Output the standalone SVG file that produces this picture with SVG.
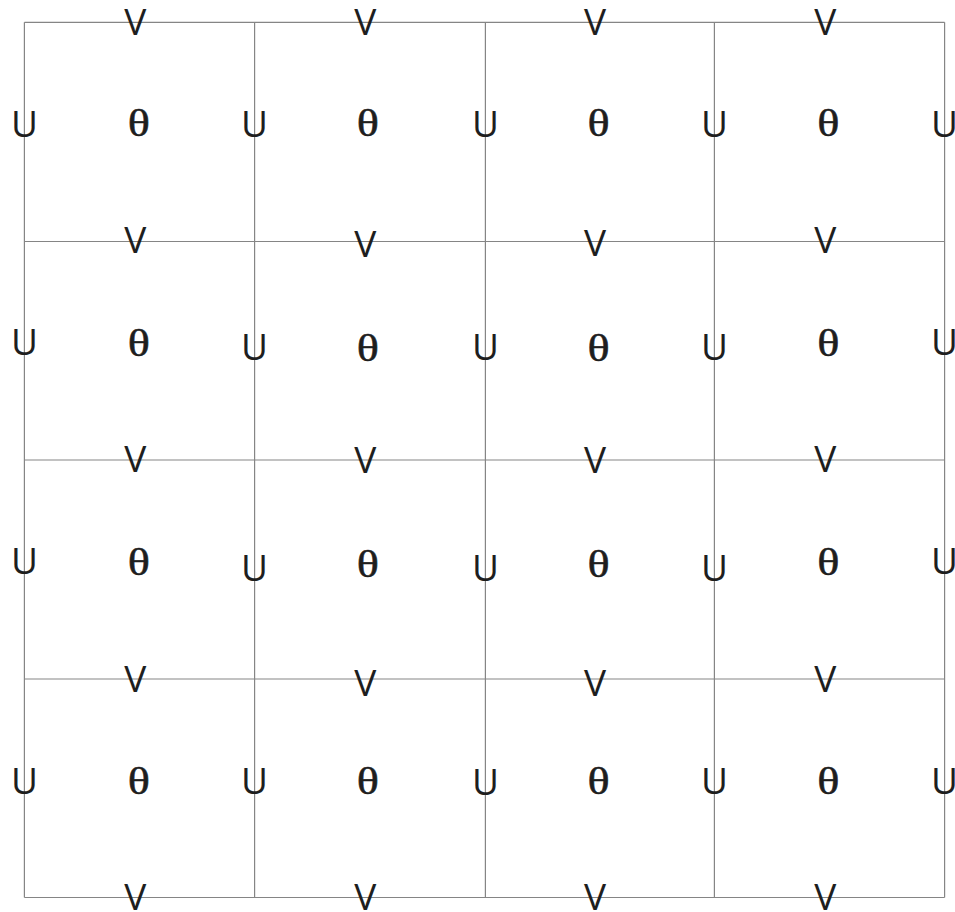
<svg xmlns="http://www.w3.org/2000/svg" width="955" height="912" viewBox="0 0 955 912">
<style>
.g{stroke:#858585;stroke-width:1.2;fill:none}
.s{font-family:"Open Sans","Liberation Sans",Arial,sans-serif;font-weight:400;font-size:37px;fill:#1e1e1e;text-anchor:middle}
.t{font-family:"Liberation Serif","Times New Roman",serif;font-size:37px;fill:#1e1e1e;stroke:#1e1e1e;stroke-width:0.5;text-anchor:middle}
</style>
<rect width="955" height="912" fill="#fff"/>
<g id="connectors" class="g">
<path d="M24.4 22.3H944.6M24.4 241.5H944.6M24.4 460H944.6M24.4 679H944.6M24.4 897.5H944.6"/>
<path d="M24.4 22.3V897.5M254.6 22.3V897.5M485.4 22.3V897.5M714.4 22.3V897.5M944.6 22.3V897.5"/>
</g>
<g id="v-labels" class="s">
<text x="135.2" y="35">V</text><text x="365.4" y="35">V</text><text x="595" y="35">V</text><text x="825.2" y="35">V</text>
<text x="135.2" y="253.3">V</text><text x="365.4" y="256.7">V</text><text x="595" y="255.7">V</text><text x="825.2" y="253.3">V</text>
<text x="135.2" y="472.3">V</text><text x="365.4" y="473.3">V</text><text x="595" y="473.3">V</text><text x="825.2" y="472.3">V</text>
<text x="135.2" y="691.7">V</text><text x="365.4" y="695.7">V</text><text x="595" y="695.7">V</text><text x="825.2" y="691.7">V</text>
<text x="135.2" y="909.5">V</text><text x="365.4" y="909.5">V</text><text x="595" y="909.5">V</text><text x="825.2" y="909.5">V</text>
</g>
<g id="u-labels" class="s">
<text x="24.4" y="136.8">U</text><text x="254.6" y="136.8">U</text><text x="485.4" y="136.8">U</text><text x="714.4" y="136.8">U</text><text x="944.6" y="136.8">U</text>
<text x="24.4" y="354.5">U</text><text x="254.6" y="360.2">U</text><text x="485.4" y="359.5">U</text><text x="714.4" y="359.5">U</text><text x="944.6" y="354.5">U</text>
<text x="24.4" y="573.5">U</text><text x="254.6" y="580.5">U</text><text x="485.4" y="580.5">U</text><text x="714.4" y="580.5">U</text><text x="944.6" y="573.5">U</text>
<text x="24.4" y="793.5">U</text><text x="254.6" y="793.5">U</text><text x="485.4" y="794.5">U</text><text x="714.4" y="793.5">U</text><text x="944.6" y="793.5">U</text>
</g>
<g id="theta-labels" class="t">
<text transform="translate(138.9 136.2) scale(1.25 1)">θ</text><text transform="translate(367.8 136.2) scale(1.25 1)">θ</text><text transform="translate(598.7 136.2) scale(1.25 1)">θ</text><text transform="translate(828.3 136.2) scale(1.25 1)">θ</text>
<text transform="translate(138.9 355.5) scale(1.25 1)">θ</text><text transform="translate(367.8 361.2) scale(1.25 1)">θ</text><text transform="translate(598.7 361.2) scale(1.25 1)">θ</text><text transform="translate(828.3 355.5) scale(1.25 1)">θ</text>
<text transform="translate(138.9 574.5) scale(1.25 1)">θ</text><text transform="translate(367.8 577.2) scale(1.25 1)">θ</text><text transform="translate(598.7 577.2) scale(1.25 1)">θ</text><text transform="translate(828.3 574.5) scale(1.25 1)">θ</text>
<text transform="translate(138.9 793.5) scale(1.25 1)">θ</text><text transform="translate(367.8 793.5) scale(1.25 1)">θ</text><text transform="translate(598.7 793.5) scale(1.25 1)">θ</text><text transform="translate(828.3 793.5) scale(1.25 1)">θ</text>
</g>
</svg>
